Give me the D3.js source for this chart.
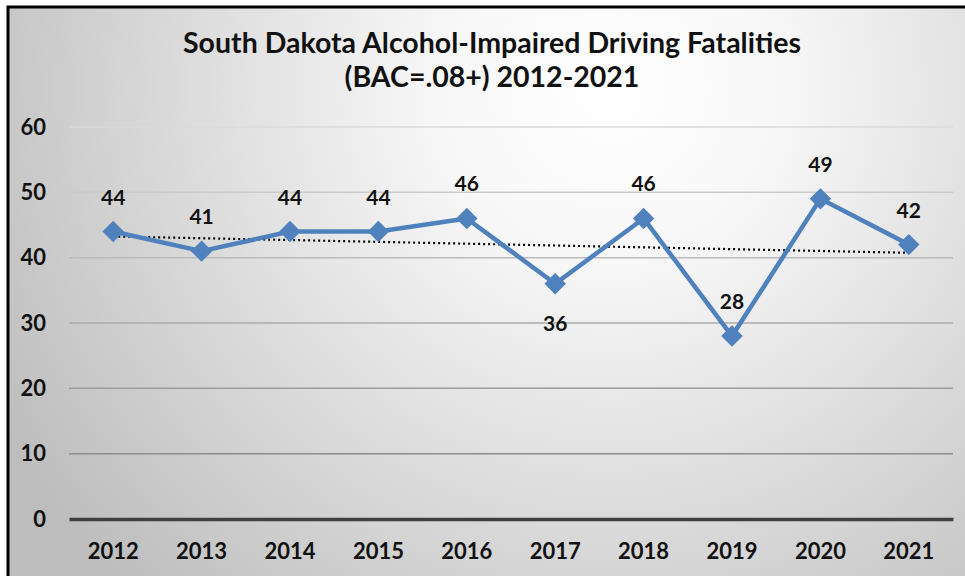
<!doctype html>
<html>
<head>
<meta charset="utf-8">
<style>
  body { margin: 0; background: #fff; }
  text { font-family: Lato, "Open Sans", sans-serif; font-weight: bold; fill: #111; }
</style>
<script src="https://d3js.org/d3.v7.min.js"></script>
</head>
<body>
<svg width="965" height="576"></svg>
<script>
// data
var years = ["2012", "2013", "2014", "2015", "2016", "2017", "2018", "2019", "2020", "2021"];
var fatalities = [44, 41, 44, 44, 46, 36, 46, 28, 49, 42];
var yTicks = [0, 10, 20, 30, 40, 50, 60];
var titleLines = ["South Dakota Alcohol-Impaired Driving Fatalities", "(BAC=.08+) 2012-2021"];
// labels that sit under the point instead of above
var labelBelow = ["2017"];

var svg = d3.select("svg");

// background gradient
var defs = svg.append("defs");
var grad = defs.append("radialGradient")
    .attr("id", "bg")
    .attr("gradientUnits", "userSpaceOnUse")
    .attr("cx", 610).attr("cy", 90).attr("r", 700);
grad.append("stop").attr("offset", "0%").attr("stop-color", "#ffffff");
grad.append("stop").attr("offset", "25%").attr("stop-color", "#f7f7f7");
grad.append("stop").attr("offset", "100%").attr("stop-color", "#bdbdbd");

svg.append("rect")
    .attr("x", 8).attr("y", 7)
    .attr("width", 970).attr("height", 580)
    .attr("fill", "url(#bg)")
    .attr("stroke", "#000")
    .attr("stroke-width", 3);

// title
svg.append("g").selectAll("text")
    .data(titleLines)
    .enter().append("text")
    .attr("x", 492)
    .attr("y", function(d, i) { return 53 + i * 34; })
    .attr("text-anchor", "middle")
    .attr("font-size", "28.5px")
    .text(function(d) { return d; });

var plotLeft = 69, plotRight = 953, plotTop = 127, plotBottom = 519;

var x = d3.scaleBand().domain(years).range([plotLeft, plotRight]);
var y = d3.scaleLinear().domain([0, 60]).range([plotBottom, plotTop]);

var gridColor = d3.scaleLinear().domain([10, 60]).range(["#8c8c8c", "#dadada"]);

// gridlines
svg.append("g").selectAll("line")
    .data(yTicks.filter(function(d) { return d > 0; }))
    .enter().append("line")
    .attr("x1", plotLeft).attr("x2", plotRight)
    .attr("y1", function(d) { return y(d); })
    .attr("y2", function(d) { return y(d); })
    .attr("stroke", function(d) { return gridColor(d); })
    .attr("stroke-width", 1.5);

// y axis labels
var yAxis = svg.append("g")
    .attr("transform", "translate(" + plotLeft + ",0)")
    .call(d3.axisLeft(y).tickValues(yTicks).tickSize(0).tickPadding(23));
yAxis.select(".domain").remove();
yAxis.selectAll("text").attr("font-size", "22px").attr("fill", "#111");

// x axis
var xAxis = svg.append("g")
    .attr("transform", "translate(0," + plotBottom + ")")
    .call(d3.axisBottom(x).tickSize(0).tickPadding(24));
xAxis.select(".domain").attr("stroke", "#404040").attr("stroke-width", 3.5);
xAxis.selectAll("text").attr("font-size", "22px").attr("fill", "#111");

function cx(i) { return x(years[i]) + x.bandwidth() / 2; }

// linear trendline
var n = years.length;
var meanX = (n - 1) / 2, meanY = d3.mean(fatalities);
var sxy = d3.sum(fatalities, function(v, i) { return (i - meanX) * (v - meanY); });
var sxx = d3.sum(fatalities, function(v, i) { return (i - meanX) * (i - meanX); });
var slope = sxy / sxx, icpt = meanY - slope * meanX;

svg.append("line")
    .attr("x1", cx(0)).attr("y1", y(icpt))
    .attr("x2", cx(n - 1)).attr("y2", y(icpt + slope * (n - 1)))
    .attr("stroke", "#000")
    .attr("stroke-width", 2.2)
    .attr("stroke-dasharray", "2,3");

// series line
var line = d3.line()
    .x(function(d, i) { return cx(i); })
    .y(function(d) { return y(d); });

svg.append("path")
    .datum(fatalities)
    .attr("d", line)
    .attr("fill", "none")
    .attr("stroke", "#4f81bd")
    .attr("stroke-width", 4.5)
    .attr("stroke-linejoin", "round");

// diamond markers
svg.append("g").selectAll("path")
    .data(fatalities)
    .enter().append("path")
    .attr("d", d3.symbol(d3.symbolSquare, 230))
    .attr("transform", function(d, i) { return "translate(" + cx(i) + "," + y(d) + ") rotate(45)"; })
    .attr("fill", "#4f81bd");

// data labels
svg.append("g").selectAll("text")
    .data(fatalities)
    .enter().append("text")
    .attr("x", function(d, i) { return cx(i); })
    .attr("y", function(d, i) {
        return labelBelow.indexOf(years[i]) >= 0 ? y(d) + 47 : y(d) - 27;
    })
    .attr("text-anchor", "middle")
    .attr("font-size", "21px")
    .text(function(d) { return d; });
</script>
</body>
</html>
